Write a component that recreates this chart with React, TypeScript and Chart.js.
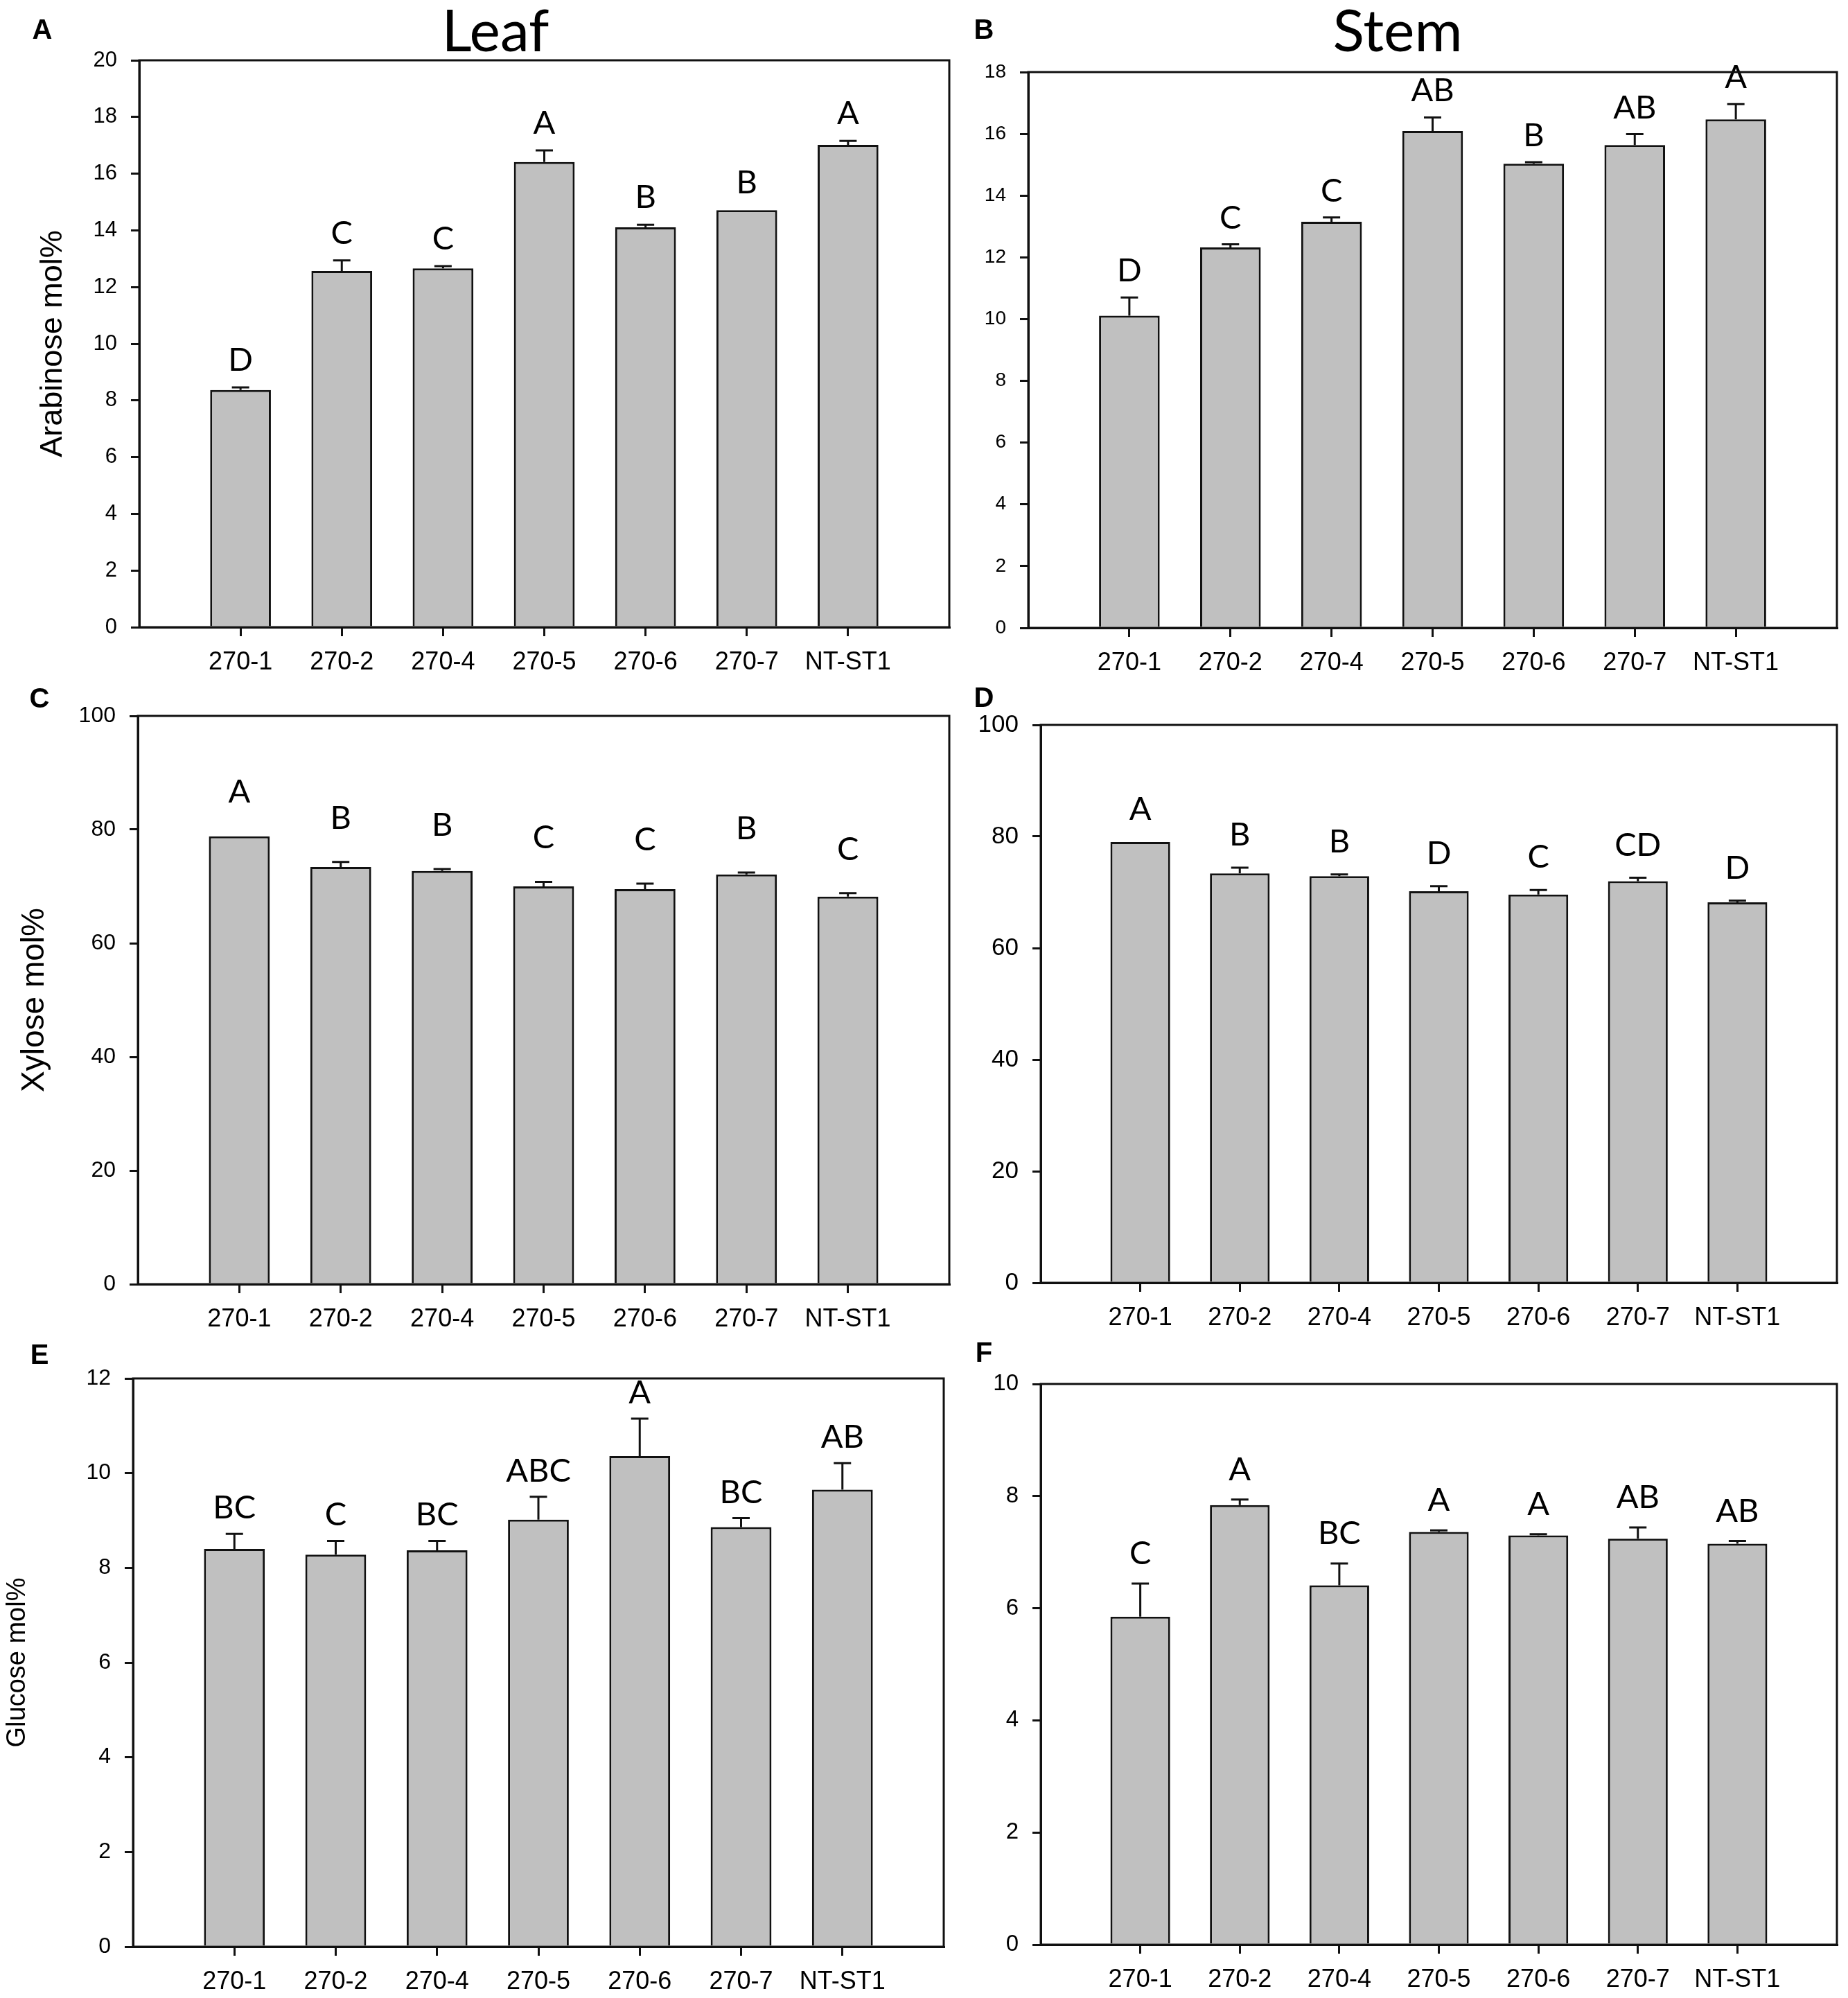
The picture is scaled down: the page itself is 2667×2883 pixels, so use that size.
import React, { useEffect, useRef } from 'react';
import { Chart, registerables } from 'chart.js';

Chart.register(...registerables);

// plant lines on every x axis
const lines = ['270-1', '270-2', '270-4', '270-5', '270-6', '270-7', 'NT-ST1'];

// A: leaf arabinose
const leafAra = [8.37, 12.57, 12.66, 16.41, 14.11, 14.71, 17.02];
const leafAraErr = [0.09, 0.37, 0.08, 0.41, 0.09, 0.01, 0.14];
const leafAraGroups = ['D', 'C', 'C', 'A', 'B', 'B', 'A'];

// B: stem arabinose
const stemAra = [10.11, 12.32, 13.15, 16.09, 15.03, 15.64, 16.47];
const stemAraErr = [0.59, 0.1, 0.14, 0.44, 0.05, 0.35, 0.49];
const stemAraGroups = ['D', 'C', 'C', 'AB', 'B', 'AB', 'A'];

// C: leaf xylose
const leafXyl = [78.8, 73.4, 72.7, 70.0, 69.5, 72.1, 68.2];
const leafXylErr = [0.05, 0.9, 0.35, 0.8, 1.0, 0.35, 0.6];
const leafXylGroups = ['A', 'B', 'B', 'C', 'C', 'B', 'C'];

// D: stem xylose
const stemXyl = [79.0, 73.4, 72.9, 70.2, 69.6, 72.0, 68.2];
const stemXylErr = [0.05, 1.0, 0.3, 0.9, 0.8, 0.6, 0.3];
const stemXylGroups = ['A', 'B', 'B', 'D', 'C', 'CD', 'D'];

// E: leaf glucose
const leafGlc = [8.4, 8.28, 8.37, 9.02, 10.36, 8.86, 9.65];
const leafGlcErr = [0.32, 0.29, 0.2, 0.48, 0.79, 0.19, 0.56];
const leafGlcGroups = ['BC', 'C', 'BC', 'ABC', 'A', 'BC', 'AB'];

// F: stem glucose
const stemGlc = [5.85, 7.84, 6.41, 7.36, 7.3, 7.24, 7.15];
const stemGlcErr = [0.59, 0.1, 0.39, 0.03, 0.02, 0.2, 0.05];
const stemGlcGroups = ['C', 'A', 'BC', 'A', 'A', 'AB', 'AB'];

const AXIS_FONT = "'Liberation Sans', Arial, sans-serif";
const LETTER_FONT = "Lato, 'Open Sans', sans-serif";
const INK = '#111';

// draws the one-sided error bars and the group letters above them
const errorBars = {
  id: 'errorBars',
  afterDatasetsDraw(chart: any, _args: any, opts: any) {
    const { ctx } = chart;
    const xs = chart.scales.x;
    const ys = chart.scales.y;
    const means = chart.data.datasets[0].data;
    ctx.save();
    ctx.strokeStyle = INK;
    ctx.lineWidth = 3;
    ctx.fillStyle = '#000';
    ctx.font = `47px ${LETTER_FONT}`;
    ctx.textAlign = 'center';
    ctx.textBaseline = 'alphabetic';
    opts.errors.forEach((e: number, i: number) => {
      const m = means[i + 1];
      const px = xs.getPixelForValue(i + 1);
      const y0 = ys.getPixelForValue(m);
      const y1 = ys.getPixelForValue(m + e);
      if (y0 - y1 > 1.5) {
        ctx.beginPath();
        ctx.moveTo(px, y0);
        ctx.lineTo(px, y1);
        ctx.moveTo(px - 12.5, y1);
        ctx.lineTo(px + 12.5, y1);
        ctx.stroke();
      }
      ctx.fillText(opts.groups[i], px, y1 - opts.gap);
    });
    ctx.restore();
  },
};

// closed box round the plot area
const frame = {
  id: 'frame',
  afterDraw(chart: any) {
    const { ctx, chartArea: a } = chart;
    ctx.save();
    ctx.strokeStyle = INK;
    ctx.lineWidth = 3;
    ctx.strokeRect(a.left, a.top, a.right - a.left, a.bottom - a.top);
    ctx.restore();
  },
};

interface PanelProps {
  box: [number, number, number, number]; // canvas left, top, width, height
  area: [number, number, number, number]; // plot left, top, right, bottom (page px)
  values: number[];
  errors: number[];
  groups: string[];
  yMax: number;
  step: number;
  tickSize: number;
  gap: number;
  yTitle?: string;
  titleSize?: number;
  titlePad?: number;
}

const Panel: React.FC<PanelProps> = (p) => {
  const canvasRef = useRef<HTMLCanvasElement>(null);
  const [left, top, width, height] = p.box;
  const [al, at, ar, ab] = p.area;

  useEffect(() => {
    const ctx = canvasRef.current?.getContext('2d');
    if (!ctx) return;
    const labels = ['', ...lines, ''];
    const last = labels.length - 1;
    const chart = new Chart(ctx, {
      type: 'bar',
      data: {
        labels,
        datasets: [
          {
            data: [null, ...p.values, null],
            backgroundColor: '#c0c0c0',
            borderColor: INK,
            borderWidth: 3,
            categoryPercentage: 1,
            barPercentage: 0.6,
          },
        ],
      },
      plugins: [errorBars, frame],
      options: {
        responsive: false,
        animation: false,
        devicePixelRatio: 1,
        layout: { padding: { left: 0, top: at - top, right: left + width - ar, bottom: 0 } },
        plugins: {
          legend: { display: false },
          tooltip: { enabled: false },
          errorBars: { errors: p.errors, groups: p.groups, gap: p.gap },
        } as any,
        scales: {
          x: {
            offset: false,
            grid: {
              offset: false,
              drawOnChartArea: false,
              drawTicks: true,
              tickLength: 13,
              lineWidth: 3,
              color: (c: any) => (c.index === 0 || c.index === last ? 'rgba(0,0,0,0)' : INK),
            },
            border: { display: true, color: INK, width: 3 },
            ticks: {
              autoSkip: false,
              maxRotation: 0,
              color: '#000',
              padding: 16,
              font: { family: AXIS_FONT, size: 36 },
            },
            afterFit: (s: any) => {
              s.height = top + height - ab;
            },
          },
          y: {
            min: 0,
            max: p.yMax,
            grid: { drawOnChartArea: false, tickLength: 12, lineWidth: 3, color: INK },
            border: { display: true, color: INK, width: 3 },
            ticks: {
              stepSize: p.step,
              color: '#000',
              padding: 20,
              font: { family: AXIS_FONT, size: p.tickSize },
            },
            title: {
              display: !!p.yTitle,
              text: p.yTitle || '',
              color: '#000',
              font: { family: AXIS_FONT, size: p.titleSize || 40 },
              padding: { top: p.titlePad || 0, bottom: 0 },
            },
            afterFit: (s: any) => {
              s.width = al - left;
            },
          },
        } as any,
      },
    });
    return () => {
      chart.destroy();
    };
  }, []);

  return (
    <canvas
      ref={canvasRef}
      width={width}
      height={height}
      style={{ position: 'absolute', left, top, width, height }}
    />
  );
};

const Tag: React.FC<{ text: string; x: number; y: number; size: number; bold?: boolean; family: string }> = ({
  text,
  x,
  y,
  size,
  bold,
  family,
}) => (
  <div
    style={{
      position: 'absolute',
      left: x,
      top: y,
      transform: 'translate(-50%, -50%)',
      fontFamily: family,
      fontSize: size,
      fontWeight: bold ? 700 : 400,
      lineHeight: 1,
      color: '#000',
      whiteSpace: 'nowrap',
      zIndex: 2,
    }}
  >
    {text}
  </div>
);

export default function App() {
  return (
    <div
      style={{
        position: 'absolute',
        left: 0,
        top: 0,
        width: 2667,
        height: 2883,
        background: '#fff',
        overflow: 'hidden',
      }}
    >
      <Panel
        box={[0, 0, 1400, 985]}
        area={[201, 87, 1370, 905]}
        values={leafAra}
        errors={leafAraErr}
        groups={leafAraGroups}
        yMax={20}
        step={2}
        tickSize={31}
        gap={24}
        yTitle="Arabinose mol%"
        titleSize={45}
        titlePad={50}
      />
      <Panel
        box={[1400, 0, 1267, 985]}
        area={[1484, 104, 2656, 906]}
        values={stemAra}
        errors={stemAraErr}
        groups={stemAraGroups}
        yMax={18}
        step={2}
        tickSize={28}
        gap={23}
      />
      <Panel
        box={[0, 985, 1400, 945]}
        area={[199, 1033, 1370, 1853]}
        values={leafXyl}
        errors={leafXylErr}
        groups={leafXylGroups}
        yMax={100}
        step={20}
        tickSize={32}
        gap={48}
        yTitle="Xylose mol%"
        titleSize={46}
        titlePad={23}
      />
      <Panel
        box={[1400, 985, 1267, 945]}
        area={[1502, 1046, 2656, 1851]}
        values={stemXyl}
        errors={stemXylErr}
        groups={stemXylGroups}
        yMax={100}
        step={20}
        tickSize={35}
        gap={32}
      />
      <Panel
        box={[0, 1930, 1400, 953]}
        area={[192, 1989, 1362, 2809]}
        values={leafGlc}
        errors={leafGlcErr}
        groups={leafGlcGroups}
        yMax={12}
        step={2}
        tickSize={32}
        gap={22}
        yTitle="Glucose mol%"
        titleSize={38}
        titlePad={3}
      />
      <Panel
        box={[1400, 1930, 1267, 953]}
        area={[1502, 1997, 2656, 2806]}
        values={stemGlc}
        errors={stemGlcErr}
        groups={stemGlcGroups}
        yMax={10}
        step={2}
        tickSize={33}
        gap={28}
      />

      <Tag text="Leaf" x={715} y={42} size={84} family={LETTER_FONT} />
      <Tag text="Stem" x={2017} y={42} size={84} family={LETTER_FONT} />
      <Tag text="A" x={61} y={42} size={40} bold family={AXIS_FONT} />
      <Tag text="B" x={1420} y={42} size={40} bold family={AXIS_FONT} />
      <Tag text="C" x={57} y={1007} size={40} bold family={AXIS_FONT} />
      <Tag text="D" x={1420} y={1006} size={40} bold family={AXIS_FONT} />
      <Tag text="E" x={57} y={1954} size={40} bold family={AXIS_FONT} />
      <Tag text="F" x={1420} y={1951} size={40} bold family={AXIS_FONT} />
    </div>
  );
}
